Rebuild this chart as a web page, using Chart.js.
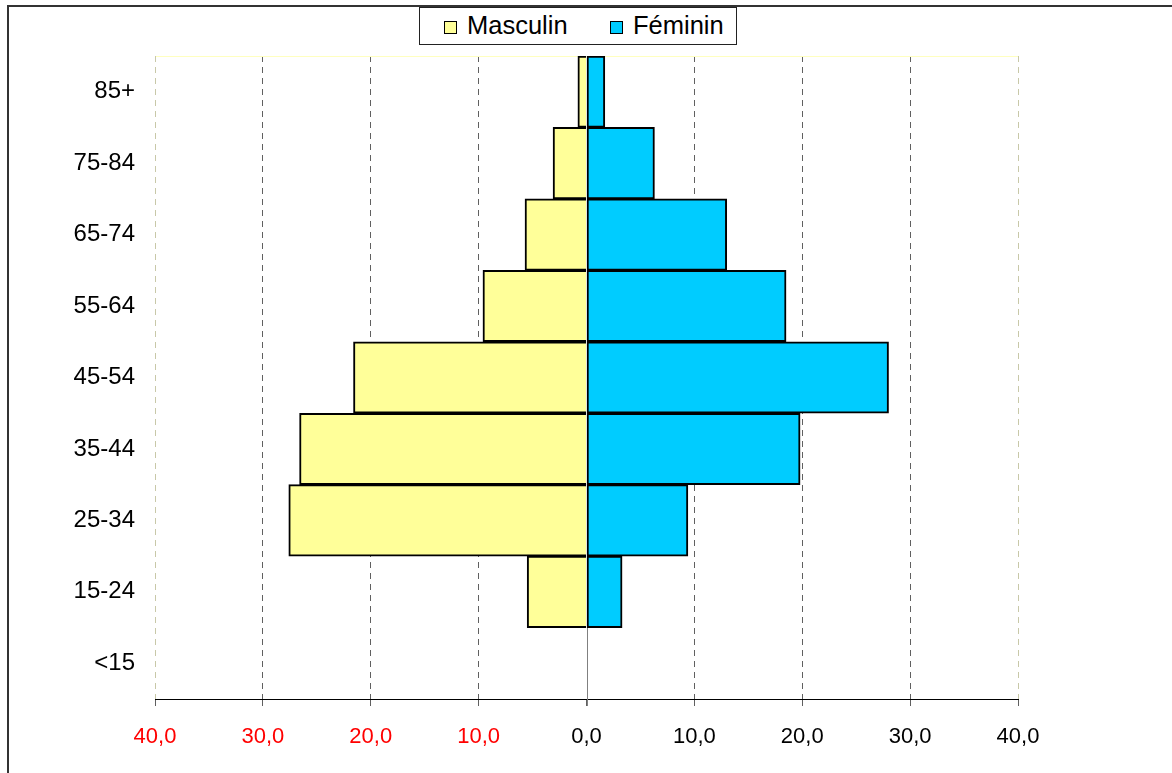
<!DOCTYPE html>
<html>
<head>
<meta charset="utf-8">
<script src="https://cdn.jsdelivr.net/npm/chart.js@4"></script>
<style>
  html, body { margin: 0; padding: 0; background: #fff; }
  #wrap { position: relative; width: 1172px; height: 773px; }
  #legend {
    position: absolute; left: 419px; top: 7px; width: 318px; height: 38px;
    border: 1px solid #222; background: #fff; box-sizing: border-box;
    font-family: "Liberation Sans", Arial, sans-serif; font-size: 25.5px; color: #000;
  }
  #legend span.sq {
    position: absolute; top: 13px; width: 13px; height: 13px;
    border: 1px solid #000; box-sizing: border-box;
  }
  #legend span.txt { position: absolute; top: 3px; line-height: 28px; }
</style>
</head>
<body>
<div id="wrap">
  <canvas id="pyramid" width="1172" height="773"></canvas>
  <div id="legend">
    <span class="sq" style="left:24px;background:#ffff99"></span>
    <span class="txt" style="left:47px">Masculin</span>
    <span class="sq" style="left:190px;background:#00ccff"></span>
    <span class="txt" style="left:213px">Féminin</span>
  </div>
</div>
<script>
// age groups, top to bottom
const ageGroups = ['85+', '75-84', '65-74', '55-64', '45-54', '35-44', '25-34', '15-24', '<15'];
// percentages
const masculin = [0.8, 3.1, 5.7, 9.6, 21.6, 26.6, 27.6, 5.5, 0];
const feminin  = [1.7, 6.3, 13.0, 18.5, 28.0, 19.8, 9.4, 3.3, 0];
const xTicks = [-40, -30, -20, -10, 0, 10, 20, 30, 40];

function fmt(v) {
  return Math.abs(v).toFixed(1).replace('.', ',');
}

// frame, top line of plot, zero line and edge lines
const decorPlugin = {
  id: 'decor',
  beforeDatasetsDraw(chart) {
    const ctx = chart.ctx;
    const a = chart.chartArea;
    const x = chart.scales.x;
    ctx.save();
    ctx.strokeStyle = '#ffffc0';
    ctx.lineWidth = 1;
    ctx.beginPath();
    ctx.moveTo(a.left, a.top + 0.5);
    ctx.lineTo(a.right, a.top + 0.5);
    ctx.stroke();
    ctx.strokeStyle = '#c8c8a8';
    ctx.setLineDash([6, 5]);
    [-40, 40].forEach(v => {
      const px = Math.round(x.getPixelForValue(v)) + 0.5;
      ctx.beginPath();
      ctx.moveTo(px, a.top);
      ctx.lineTo(px, a.bottom);
      ctx.stroke();
    });
    ctx.setLineDash([]);
    ctx.strokeStyle = '#808080';
    const z = Math.round(x.getPixelForValue(0)) + 0.5;
    ctx.beginPath();
    ctx.moveTo(z, a.top);
    ctx.lineTo(z, a.bottom + 7);
    ctx.stroke();
    ctx.restore();
  },
  afterDraw(chart) {
    const ctx = chart.ctx;
    ctx.save();
    ctx.strokeStyle = '#333';
    ctx.lineWidth = 2;
    ctx.beginPath();
    ctx.moveTo(8, 800);
    ctx.lineTo(8, 6);
    ctx.lineTo(1172, 6);
    ctx.stroke();
    ctx.restore();
  }
};

new Chart(document.getElementById('pyramid').getContext('2d'), {
  type: 'bar',
  data: {
    labels: ageGroups,
    datasets: [{
      label: 'Masculin',
      data: masculin.map(v => -v),
      backgroundColor: '#ffff99',
      borderColor: '#000',
      borderWidth: { top: 2, bottom: 2, left: 2, right: 0 },
      borderSkipped: false
    }, {
      label: 'Féminin',
      data: feminin,
      backgroundColor: '#00ccff',
      borderColor: '#000',
      borderWidth: 2,
      borderSkipped: false
    }]
  },
  plugins: [decorPlugin],
  options: {
    indexAxis: 'y',
    responsive: false,
    animation: false,
    layout: { padding: { left: 0, right: 154, top: 56, bottom: 0 } },
    plugins: { legend: { display: false }, tooltip: { enabled: false } },
    datasets: { bar: { barPercentage: 1, categoryPercentage: 1 } },
    scales: {
      x: {
        stacked: true,
        min: -40,
        max: 40,
        afterBuildTicks: s => { s.ticks = xTicks.map(v => ({ value: v })); },
        afterFit: s => { s.height = 773 - 699; },
        border: { display: true, color: '#000', width: 1, dash: [6, 5] },
        grid: {
          color: c => (c.tick && Math.abs(c.tick.value) < 40 && c.tick.value !== 0) ? '#606060' : 'rgba(0,0,0,0)',
          tickColor: '#606060',
          tickLength: 7,
          tickBorderDash: [],
          lineWidth: 1
        },
        ticks: {
          padding: 18,
          color: c => c.tick.value < 0 ? '#ff0000' : '#000',
          font: { family: '"Liberation Sans", Arial, sans-serif', size: 22 },
          callback: v => fmt(v)
        }
      },
      y: {
        stacked: true,
        afterFit: s => { s.width = 155; },
        border: { display: false },
        grid: { display: false },
        ticks: {
          padding: 12,
          color: '#000',
          font: { family: '"Liberation Sans", Arial, sans-serif', size: 24 }
        }
      }
    }
  }
});
</script>
</body>
</html>
